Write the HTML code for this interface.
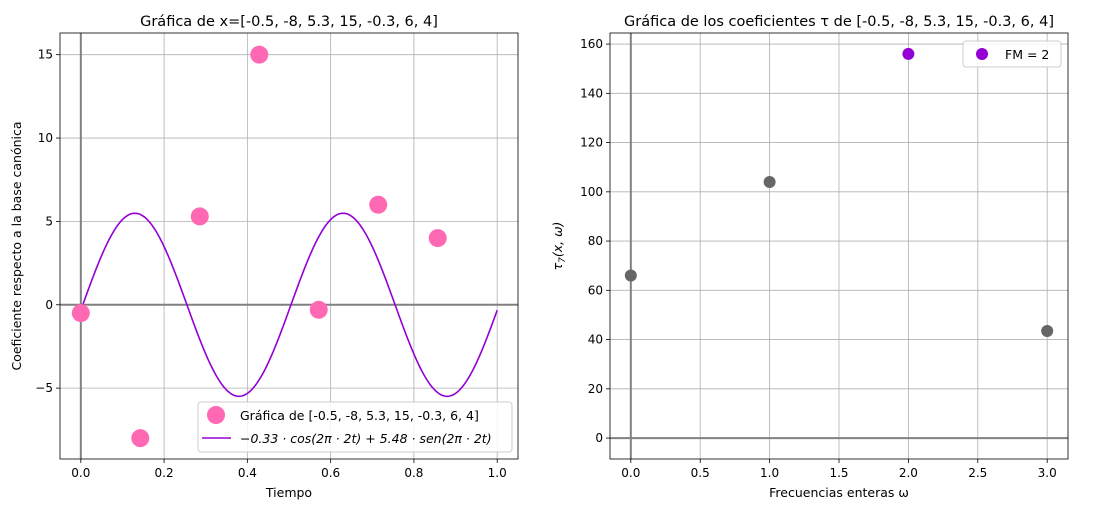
<!DOCTYPE html>
<html><head><meta charset="utf-8"><style>
body{margin:0;background:#fff;}
svg text{font-family:"DejaVu Sans","Liberation Sans",sans-serif;fill:#000;}
</style></head><body>
<svg id="c" width="1095" height="512" xmlns="http://www.w3.org/2000/svg"></svg>
<script>
const signal = [-0.5, -8, 5.3, 15, -0.3, 6, 4];
const cosCoef = -0.33, sinCoef = 5.48, freq = 2;
const leftXTicks = [0, 0.2, 0.4, 0.6, 0.8, 1.0];
const leftXLabels = ["0.0","0.2","0.4","0.6","0.8","1.0"];
const leftYTicks = [-5, 0, 5, 10, 15];
const freqs = [0, 1, 2, 3];
const tau = [66, 104, 156, 43.5];
const fm = 2;
const rightXTicks = [0, 0.5, 1.0, 1.5, 2.0, 2.5, 3.0];
const rightXLabels = ["0.0","0.5","1.0","1.5","2.0","2.5","3.0"];
const rightYTicks = [0, 20, 40, 60, 80, 100, 120, 140, 160];

const NS = "http://www.w3.org/2000/svg";
const svg = document.getElementById('c');
function mk(tag, attrs, parent, text){
  const e = document.createElementNS(NS, tag);
  for (const k in attrs) e.setAttribute(k, attrs[k]);
  if (text !== undefined) e.textContent = text;
  (parent || svg).appendChild(e);
  return e;
}
function axes(box, xmin, xmax, ymin, ymax, xt, xl, yt, name){
  const g = mk('g', {});
  
  
  const X = v => box.x0 + (v - xmin) / (xmax - xmin) * (box.x1 - box.x0);
  const Y = v => box.y1 - (v - ymin) / (ymax - ymin) * (box.y1 - box.y0);
  xt.forEach((v, i) => {
    const l = mk('line', {x1:X(v), x2:X(v), y1:box.y0, y2:box.y1, stroke:'#b0b0b0', 'stroke-width':0.8}, g);
    
    
    mk('line', {x1:X(v), x2:X(v), y1:box.y1, y2:box.y1+4, stroke:'#000', 'stroke-width':0.8}, g);
    const t = mk('text', {x:X(v), y:box.y1+18, 'font-size':12, 'text-anchor':'middle'}, g, xl[i]);
    
    
  });
  yt.forEach(v => {
    const l = mk('line', {x1:box.x0, x2:box.x1, y1:Y(v), y2:Y(v), stroke:'#b0b0b0', 'stroke-width':0.8}, g);
    
    
    mk('line', {x1:box.x0-4, x2:box.x0, y1:Y(v), y2:Y(v), stroke:'#000', 'stroke-width':0.8}, g);
    const t = mk('text', {x:box.x0-7, y:Y(v)+4, 'font-size':12, 'text-anchor':'end'}, g, String(v).replace('-', '−'));
    
    
  });
  mk('line', {x1:X(0), x2:X(0), y1:box.y0, y2:box.y1, stroke:'#808080', 'stroke-width':2}, g);
  mk('line', {x1:box.x0, x2:box.x1, y1:Y(0), y2:Y(0), stroke:'#808080', 'stroke-width':2}, g);
  const fr = mk('rect', {x:box.x0, y:box.y0, width:box.x1-box.x0, height:box.y1-box.y0, fill:'none', stroke:'#000', 'stroke-width':0.8}, g);
  
  
  return {X, Y, g};
}

// Left plot
const L = axes({x0:60, x1:518, y0:33, y1:459}, -0.05, 1.05, -9.25, 16.3, leftXTicks, leftXLabels, leftYTicks, 'left-axes');
let d = '';
for (let i = 0; i <= 400; i++) {
  const t = i / 400;
  const y = cosCoef * Math.cos(2*Math.PI*freq*t) + sinCoef * Math.sin(2*Math.PI*freq*t);
  d += (i ? 'L' : 'M') + L.X(t).toFixed(2) + ',' + L.Y(y).toFixed(2);
}
const curve = mk('path', {d, fill:'none', stroke:'#9400d3', 'stroke-width':1.6});


signal.forEach((v, i) => {
  const c = mk('circle', {cx:L.X(i/signal.length), cy:L.Y(v), r:9, fill:'#ff69b4'});
  
  
});
const t1 = mk('text', {x:289, y:26, 'font-size':14.5, 'text-anchor':'middle'}, svg, 'Gráfica de x=[-0.5, -8, 5.3, 15, -0.3, 6, 4]');
 
const xl1 = mk('text', {x:289, y:497, 'font-size':12.5, 'text-anchor':'middle'}, svg, 'Tiempo');
 
const yl1 = mk('text', {x:0, y:0, 'font-size':12.5, 'text-anchor':'middle', transform:'translate(21,246) rotate(-90)'}, svg, 'Coeficiente respecto a la base canónica');
 
const lg1 = mk('g', {});
 
mk('rect', {x:198, y:402, width:314, height:50, rx:3, fill:'#fff', 'fill-opacity':0.85, stroke:'#ccc'}, lg1);
mk('circle', {cx:216, cy:415, r:9, fill:'#ff69b4'}, lg1);
mk('text', {x:240, y:420, 'font-size':12.5}, lg1, 'Gráfica de [-0.5, -8, 5.3, 15, -0.3, 6, 4]');
mk('line', {x1:202, x2:231, y1:438, y2:438, stroke:'#9400d3', 'stroke-width':1.6}, lg1);
mk('text', {x:240, y:443, 'font-size':12.5, 'font-style':'italic'}, lg1, '−0.33 · cos(2π · 2t) + 5.48 · sen(2π · 2t)');

// Right plot
const R = axes({x0:610, x1:1068, y0:33, y1:459}, -0.15, 3.15, -8.5, 164.5, rightXTicks, rightXLabels, rightYTicks, 'right-axes');
freqs.forEach((f, i) => {
  const c = mk('circle', {cx:R.X(f), cy:R.Y(tau[i]), r:6, fill: f === fm ? '#9400d3' : '#666666'});
  
  
});
const t2 = mk('text', {x:839, y:26, 'font-size':14.5, 'text-anchor':'middle'}, svg, 'Gráfica de los coeficientes τ de [-0.5, -8, 5.3, 15, -0.3, 6, 4]');
 
const xl2 = mk('text', {x:839, y:497, 'font-size':12.5, 'text-anchor':'middle'}, svg, 'Frecuencias enteras ω');
 
const yl2 = mk('text', {x:0, y:0, 'font-size':12.5, 'text-anchor':'middle', 'font-style':'italic', transform:'translate(562,246) rotate(-90)'}, svg);
 
mk('tspan', {}, yl2, 'τ');
mk('tspan', {'font-size':9, dy:3}, yl2, '7');
mk('tspan', {dy:-3}, yl2, '(x, ω)');
const lg2 = mk('g', {});
 
mk('rect', {x:963, y:41, width:98, height:26, rx:3, fill:'#fff', 'fill-opacity':0.85, stroke:'#ccc'}, lg2);
mk('circle', {cx:982, cy:54, r:6, fill:'#9400d3'}, lg2);
mk('text', {x:1005, y:59, 'font-size':12.5}, lg2, 'FM = 2');
</script>
</body></html>
